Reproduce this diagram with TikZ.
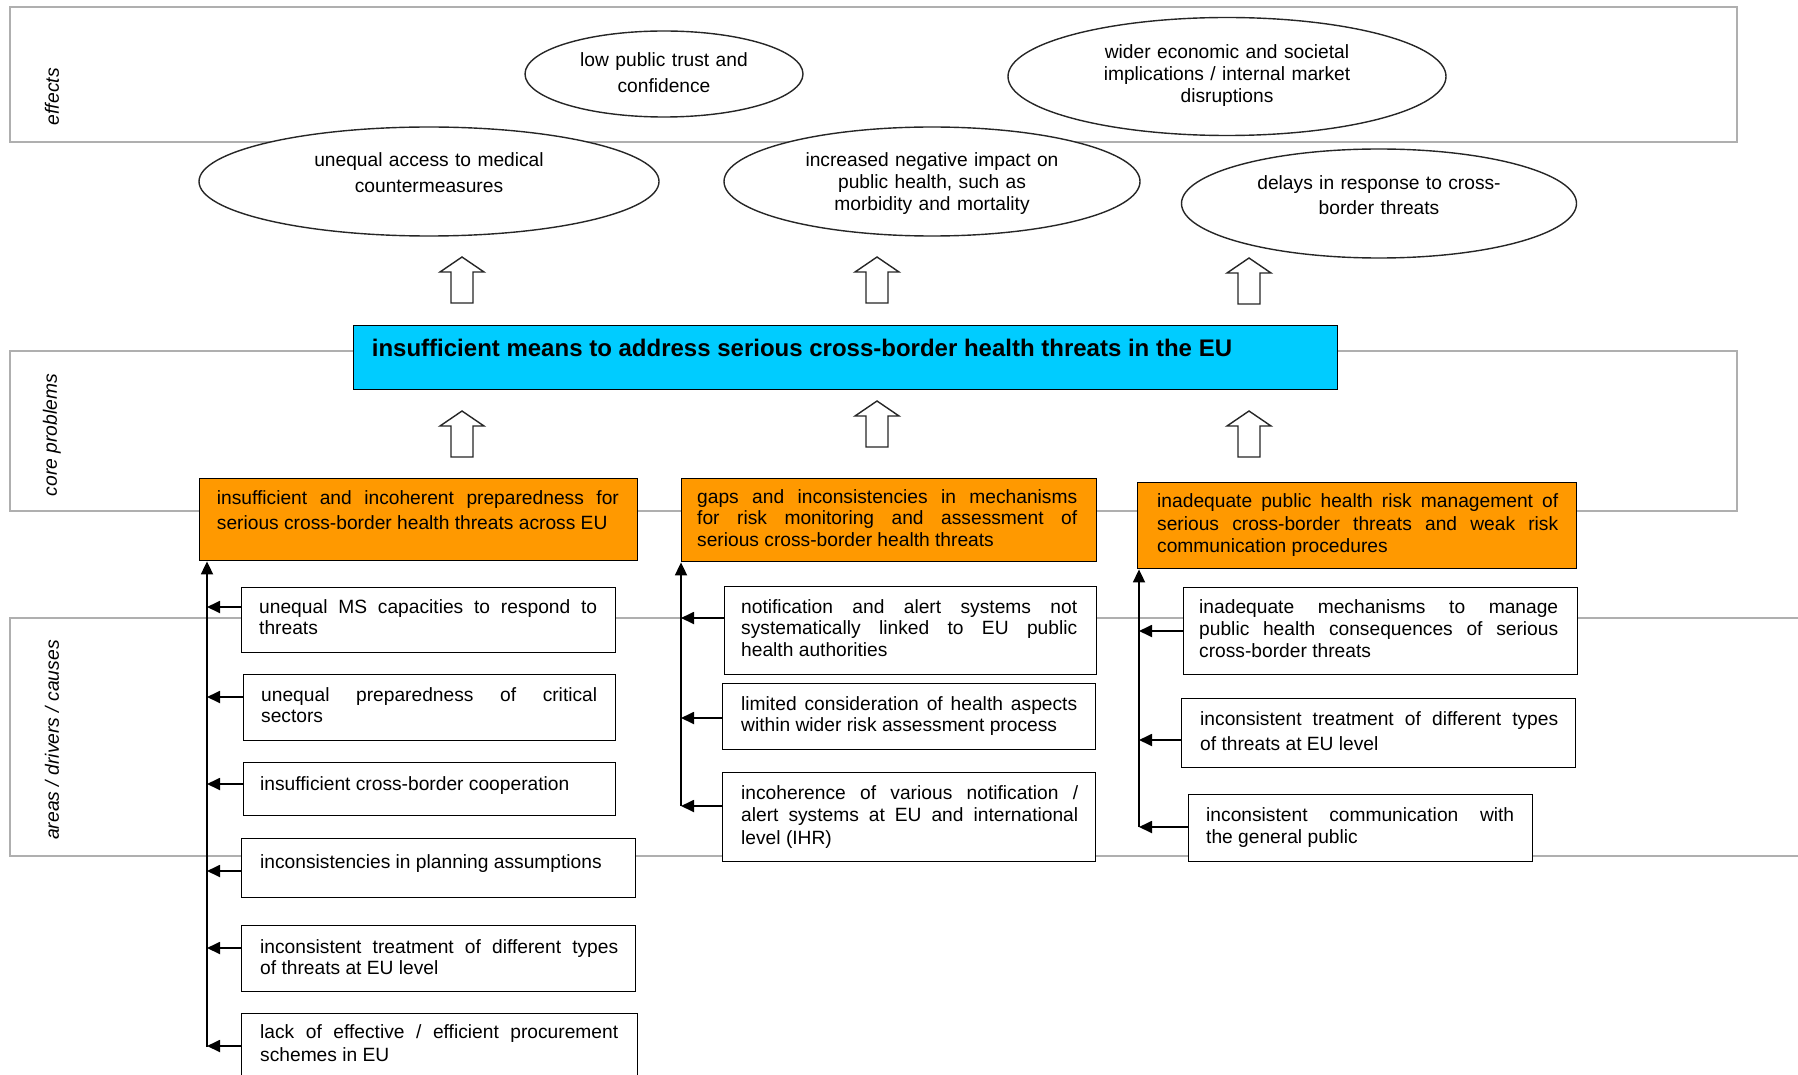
\documentclass[tikz,border=0pt]{standalone}
\usepackage{fontspec}
\setmainfont{Liberation Sans}
\usetikzlibrary{arrows.meta,calc,shapes.geometric}
\tolerance=10000 \hyphenpenalty=10000 \exhyphenpenalty=10000 \hbadness=10000
\definecolor{bandgray}{RGB}{175,175,175}
\definecolor{cyanbox}{RGB}{0,204,255}
\definecolor{orangebox}{RGB}{255,153,0}
\tikzset{
  band/.style={draw=bandgray, line width=1.6pt},
  bandlabel/.style={font=\fontsize{19.3}{22}\selectfont\itshape, rotate=90, inner sep=0},
  effect/.style={draw=black!85, line width=1.4pt, fill=white, ellipse, inner sep=0},
  etext/.style 2 args={font=\fontsize{19.2}{#2}\selectfont, align=center, text width=#1, inner sep=0, anchor=base},
  cbox/.style={draw, line width=1.4pt, fill=white, inner sep=0, anchor=north west},
  obox/.style={draw, line width=1.4pt, fill=orangebox, inner sep=0, anchor=north west},
  btext/.style 2 args={font=\fontsize{19.2}{#2}\selectfont, align=justify, text width=#1, inner sep=0, anchor=base west},
  link/.style={line width=1.8pt, -{Triangle[length=13pt,width=12pt]}},
  hollow/.style={draw=black!85, line width=1.4pt, fill=white},
  blockup/.pic={\path[hollow] (0,0) -- (22,15) -- (11,15) -- (11,46) -- (-11,46) -- (-11,15) -- (-22,15) -- cycle;}
}
\begin{document}
\begin{tikzpicture}[x=1pt,y=-1pt]
\useasboundingbox (0,0) rectangle (1798,1075);
% bands
\draw[band] (10,7) rectangle (1737,142);
\draw[band] (10,351) rectangle (1737,511);
\draw[band] (10,618) rectangle (1830,856);
\node[bandlabel] (lab1) at (52,96.7) {effects};
\node[bandlabel] (lab2) at (52,435) {core problems};
\node[bandlabel] (lab3) at (52,740) {areas / drivers / causes};
% effects
\node[effect, minimum width=278, minimum height=86] (e1) at (664,74) {};
\node[effect, minimum width=438, minimum height=118] (e2) at (1227,76.5) {};
\node[effect, minimum width=460, minimum height=109] (e3) at (429,181.5) {};
\node[effect, minimum width=416, minimum height=109] (e4) at (932,181.5) {};
\node[effect, minimum width=395, minimum height=109] (e5) at (1379,203.5) {};
\node[etext={300}{26}] (e1t) at (664,66.7) {low public trust and\\confidence};
\node[etext={400}{22.2}] (e2t) at (1227,58.3) {wider economic and societal\\implications / internal market\\disruptions};
\node[etext={420}{26}] (e3t) at (429,166.7) {unequal access to medical\\countermeasures};
\node[etext={400}{21.7}] (e4t) at (932,166.7) {increased negative impact on\\public health, such as\\morbidity and mortality};
\node[etext={380}{25}] (e5t) at (1379,189.3) {delays in response to cross-\\border threats};
% block arrows
\pic at (462,257) {blockup};
\pic at (877,257) {blockup};
\pic at (1249,258) {blockup};
\pic at (462,411) {blockup};
\pic at (877,401) {blockup};
\pic at (1249,411) {blockup};
% core problem
\node[draw, line width=1.4pt, fill=cyanbox, minimum width=984.5, minimum height=64, inner sep=0, anchor=north west] (core) at (352.5,325) {};
\node[font=\fontsize{24}{28}\selectfont\bfseries, anchor=base west, inner sep=0] (coret) at (371.7,356.7) {insufficient means to address serious cross-border health threats in the EU};
% orange boxes
\node[obox, minimum width=438, minimum height=82] (O1) at (199,478) {};
\node[btext={402}{25}] (O1t) at (216.7,504) {insufficient and incoherent preparedness for\linebreak serious cross-border health threats across EU};
\node[obox, minimum width=415.3, minimum height=83] (O2) at (680.7,478) {};
\node[btext={380}{21.5}] (O2t) at (697,503) {gaps and inconsistencies in mechanisms\linebreak for risk monitoring and assessment of\linebreak serious cross-border health threats};
\node[obox, minimum width=439, minimum height=86] (O3) at (1137,482) {};
\node[btext={401}{22.5}] (O3t) at (1157,507.7) {inadequate public health risk management of\linebreak serious cross-border threats and weak risk\linebreak communication procedures};
% left column
\node[cbox, minimum width=374, minimum height=65] (L1) at (241,587) {};
\node[btext={338}{21}] (L1t) at (259,613) {unequal MS capacities to respond to\linebreak threats};
\node[cbox, minimum width=372, minimum height=66] (L2) at (243,674) {};
\node[btext={336}{21}] (L2t) at (261,701) {unequal preparedness of critical\linebreak sectors};
\node[cbox, minimum width=372, minimum height=53] (L3) at (243,762) {};
\node[btext={336}{21}] (L3t) at (260,790) {insufficient cross-border cooperation};
\node[cbox, minimum width=394, minimum height=59] (L4) at (241,838) {};
\node[btext={358}{21}] (L4t) at (260,868) {inconsistencies in planning assumptions};
\node[cbox, minimum width=394, minimum height=66] (L5) at (241,925) {};
\node[btext={358}{21}] (L5t) at (260,953) {inconsistent treatment of different types\linebreak of threats at EU level};
\node[cbox, minimum width=396, minimum height=90] (L6) at (241,1013) {};
\node[btext={358}{22.5}] (L6t) at (260,1038.5) {lack of effective / efficient procurement\linebreak schemes in EU};
% middle column
\node[cbox, minimum width=372, minimum height=88.5] (M1) at (724,585.5) {};
\node[btext={336}{21.8}] (M1t) at (741,613) {notification and alert systems not\linebreak systematically linked to EU public\linebreak health authorities};
\node[cbox, minimum width=373, minimum height=66] (M2) at (722,683) {};
\node[btext={336}{21.7}] (M2t) at (741,710) {limited consideration of health aspects\linebreak within wider risk assessment process};
\node[cbox, minimum width=373, minimum height=89] (M3) at (722,772) {};
\node[btext={337}{22.5}] (M3t) at (741,799) {incoherence of various notification /\linebreak alert systems at EU and international\linebreak level (IHR)};
% right column
\node[cbox, minimum width=394, minimum height=87] (R1) at (1183,587) {};
\node[btext={359}{22}] (R1t) at (1199,613) {inadequate mechanisms to manage\linebreak public health consequences of serious\linebreak cross-border threats};
\node[cbox, minimum width=394, minimum height=69] (R2) at (1181,698) {};
\node[btext={358}{25}] (R2t) at (1200,725) {inconsistent treatment of different types\linebreak of threats at EU level};
\node[cbox, minimum width=344, minimum height=67] (R3) at (1188,794) {};
\node[btext={308}{22}] (R3t) at (1206,821.5) {inconsistent communication with\linebreak the general public};
% spines
\coordinate (spL) at (207,1047);
\coordinate (spM) at (681,806);
\coordinate (spR) at (1139,827);
\draw[link] (spL) -- (spL |- O1.south);
\draw[link] (spM) -- (spM |- O2.south);
\draw[link] (spR) -- (spR |- O3.south);
% feeders
\coordinate (a1) at ($(L1.north west)+(0,20)$);
\coordinate (a2) at ($(L2.north west)+(0,23)$);
\coordinate (a3) at ($(L3.north west)+(0,22)$);
\coordinate (a4) at ($(L4.north west)+(0,33)$);
\coordinate (a5) at ($(L5.north west)+(0,23)$);
\coordinate (a6) at ($(L6.north west)+(0,33)$);
\coordinate (b1) at ($(M1.north west)+(0,32.5)$);
\coordinate (b2) at ($(M2.north west)+(0,35)$);
\coordinate (b3) at ($(M3.north west)+(0,34)$);
\coordinate (c1) at ($(R1.north west)+(0,44)$);
\coordinate (c2) at ($(R2.north west)+(0,42)$);
\coordinate (c3) at ($(R3.north west)+(0,33)$);
\foreach \p in {a1,a2,a3,a4,a5,a6} \draw[link] (\p) -- (\p -| spL);
\foreach \p in {b1,b2,b3} \draw[link] (\p) -- (\p -| spM);
\foreach \p in {c1,c2,c3} \draw[link] (\p) -- (\p -| spR);
\end{tikzpicture}
\end{document}
